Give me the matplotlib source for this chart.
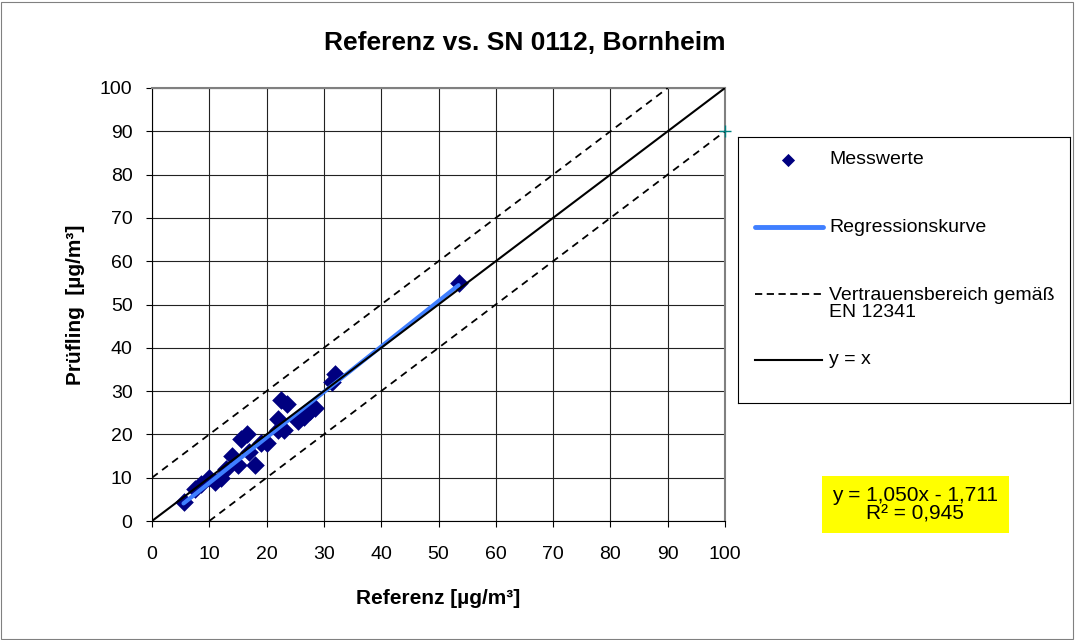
import matplotlib
matplotlib.use("Agg")
import matplotlib.pyplot as plt
import numpy as np
from matplotlib.patches import Rectangle

plt.rcParams["font.family"] = ["Liberation Sans", "DejaVu Sans"]

# Data
ref_vals = [5.5, 7.5, 8.5, 10.0, 11.0, 12.0, 13.0, 14.0, 15.0, 15.5, 16.5, 17.0, 18.0,
            19.0, 20.0, 22.0, 22.0, 22.5, 23.0, 23.5, 25.5, 26.5, 27.5, 28.5, 31.5, 32.0, 53.5]
test_vals = [4.5, 7.5, 8.5, 10.0, 9.0, 10.0, 12.0, 15.0, 13.0, 19.0, 20.0, 16.0, 13.0,
             18.0, 18.0, 21.0, 23.5, 28.0, 21.0, 27.0, 23.0, 24.0, 25.5, 26.0, 32.0, 34.0, 55.0]
slope, intercept = 1.050, -1.711
r2 = 0.945
conf_upper_x = [0, 90]
conf_upper_y = [10, 100]
conf_lower_x = [10, 100]
conf_lower_y = [0, 90]
ident = [0, 100]
extra_pt = (100, 90)
ticks = list(range(0, 101, 10))

W, H = 1075, 640
fig = plt.figure(figsize=(W / 100, H / 100), dpi=100)
fig.patch.set_facecolor("white")
fig.add_artist(Rectangle((1 / W, 1 / H), 1 - 3 / W, 1 - 3 / H, transform=fig.transFigure,
                         fill=False, edgecolor="#808080", linewidth=0.8))

ax = fig.add_axes([152 / W, 1 - 521 / H, (725 - 152) / W, (521 - 88) / H])
ax.set_xlim(0, 100)
ax.set_ylim(0, 100)
ax.set_xticks(ticks)
ax.set_yticks(ticks)
ax.grid(True, color="#222222", linewidth=0.8)
ax.set_axisbelow(True)
ax.tick_params(labelsize=14, direction="out", length=4, color="black")
ax.tick_params(axis="x", pad=14)
ax.tick_params(axis="y", pad=10)
for s in ["left", "bottom"]:
    ax.spines[s].set_color("black")
for s in ["top", "right"]:
    ax.spines[s].set_color("#808080")
    ax.spines[s].set_linewidth(1.5)

ax.plot(conf_upper_x, conf_upper_y, color="black", linestyle=(0, (4, 3)), linewidth=1.3, zorder=3)
ax.plot(conf_lower_x, conf_lower_y, color="black", linestyle=(0, (4, 3)), linewidth=1.3, zorder=3)
ax.scatter(ref_vals, test_vals, marker="D", s=90, color="#000080", zorder=4, linewidths=0)
xr = np.array([min(ref_vals), max(ref_vals)])
ax.plot(xr, slope * xr + intercept, color="#3f7fff", linewidth=3, zorder=5, solid_capstyle="round")
ax.plot(ident, ident, color="black", linewidth=1.5, zorder=6)
ax.plot([extra_pt[0]], [extra_pt[1]], marker="+", color="#008080", markersize=9, clip_on=False, zorder=7)

ax.set_xlabel("Referenz [µg/m³]", fontsize=15, fontweight="bold", labelpad=19)
ax.set_ylabel("Prüfling  [µg/m³]", fontsize=15, fontweight="bold", labelpad=11)
fig.text(525 / W, 1 - 43 / H, "Referenz vs. SN 0112, Bornheim", ha="center", va="center",
         fontsize=19, fontweight="bold")

# Legend box
lx0, lx1, ly0, ly1 = 738, 1070, 137, 403
lg = fig.add_axes([lx0 / W, 1 - ly1 / H, (lx1 - lx0) / W, (ly1 - ly0) / H])
lg.set_xlim(lx0, lx1)
lg.set_ylim(ly1, ly0)
lg.set_xticks([])
lg.set_yticks([])
for s in lg.spines.values():
    s.set_color("black")
    s.set_linewidth(0.8)
lg.scatter([788], [160], marker="D", s=45, color="#000080", linewidths=0)
lg.text(829, 160, "Messwerte", va="center", ha="left", fontsize=14)
lg.plot([755, 823], [227, 227], color="#3f7fff", linewidth=3.5, solid_capstyle="round")
lg.text(829, 227, "Regressionskurve", va="center", ha="left", fontsize=14)
lg.plot([755, 822], [294, 294], color="black", linestyle=(0, (4, 2.5)), linewidth=1.3)
lg.text(829, 304, "Vertrauensbereich gemäß\nEN 12341", va="center", ha="left", fontsize=14,
        linespacing=0.95)
lg.plot([755, 822], [360, 360], color="black", linewidth=1.5)
lg.text(829, 360, "y = x", va="center", ha="left", fontsize=14)

# Equation box
fig.add_artist(Rectangle((822 / W, 1 - 533 / H), (1009 - 822) / W, (533 - 476) / H,
                         transform=fig.transFigure, facecolor="#ffff00", edgecolor="none"))
fig.text(915 / W, 1 - 505 / H, "y = 1,050x - 1,711\nR² = 0,945", ha="center", va="center",
         fontsize=15, linespacing=0.95)

fig.savefig("out.png", dpi=100)
